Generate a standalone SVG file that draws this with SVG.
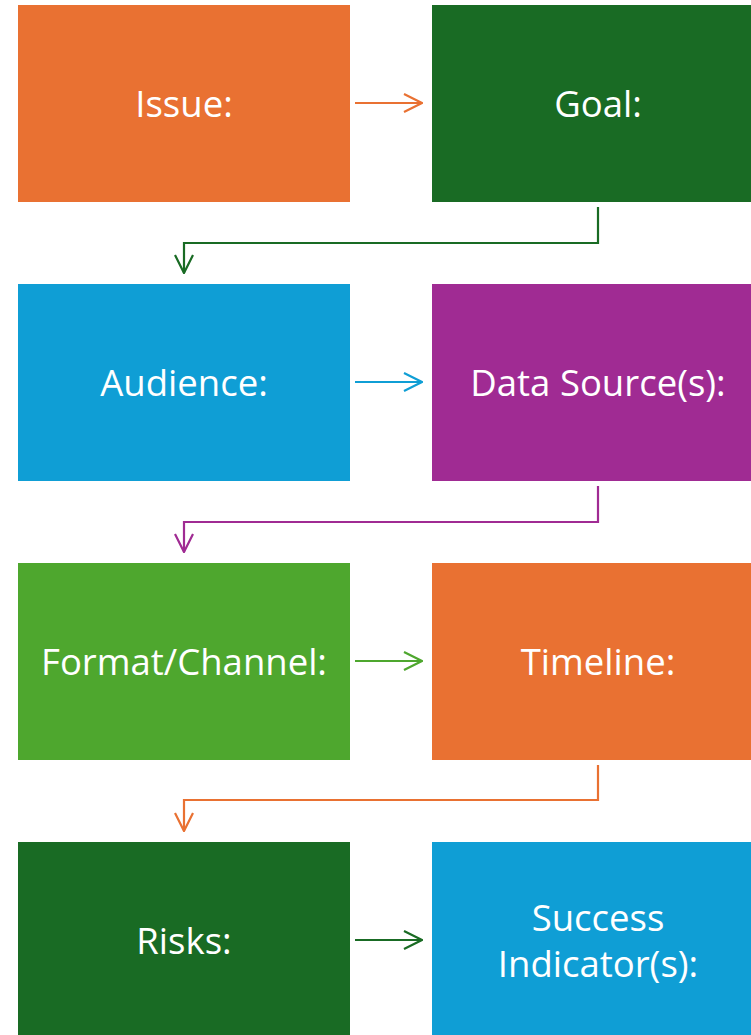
<svg xmlns="http://www.w3.org/2000/svg" width="751" height="1035" viewBox="0 0 751 1035">
<style>
.lbl{font-family:"Open Sans","Liberation Sans",sans-serif;font-size:36.5px;fill:#ffffff;text-anchor:middle;dominant-baseline:central}
.c{fill:none;stroke-width:2.2}
</style>
<defs>
<marker id="mo" viewBox="0 0 20 20" refX="19" refY="10" markerWidth="20" markerHeight="20" markerUnits="userSpaceOnUse" orient="auto"><path d="M1,1 L19,10 L1,19" fill="none" stroke="#E97132" stroke-width="2.2"/></marker>
<marker id="mg" viewBox="0 0 20 20" refX="19" refY="10" markerWidth="20" markerHeight="20" markerUnits="userSpaceOnUse" orient="auto"><path d="M1,1 L19,10 L1,19" fill="none" stroke="#196B24" stroke-width="2.2"/></marker>
<marker id="mb" viewBox="0 0 20 20" refX="19" refY="10" markerWidth="20" markerHeight="20" markerUnits="userSpaceOnUse" orient="auto"><path d="M1,1 L19,10 L1,19" fill="none" stroke="#0F9ED5" stroke-width="2.2"/></marker>
<marker id="mp" viewBox="0 0 20 20" refX="19" refY="10" markerWidth="20" markerHeight="20" markerUnits="userSpaceOnUse" orient="auto"><path d="M1,1 L19,10 L1,19" fill="none" stroke="#A02B93" stroke-width="2.2"/></marker>
<marker id="ml" viewBox="0 0 20 20" refX="19" refY="10" markerWidth="20" markerHeight="20" markerUnits="userSpaceOnUse" orient="auto"><path d="M1,1 L19,10 L1,19" fill="none" stroke="#4EA72E" stroke-width="2.2"/></marker>
</defs>
<g id="issue"><rect x="18" y="5" width="332" height="197" fill="#E97132"/><text class="lbl" x="184" y="103">Issue:</text></g>
<g id="goal"><rect x="432" y="5" width="332" height="197" fill="#196B24"/><text class="lbl" x="598" y="103">Goal:</text></g>
<g id="audience"><rect x="18" y="284" width="332" height="197" fill="#0F9ED5"/><text class="lbl" x="184" y="382">Audience:</text></g>
<g id="datasource"><rect x="432" y="284" width="332" height="197" fill="#A02B93"/><text class="lbl" x="598" y="382">Data Source(s):</text></g>
<g id="format"><rect x="18" y="563" width="332" height="197" fill="#4EA72E"/><text class="lbl" x="184" y="661">Format/Channel:</text></g>
<g id="timeline"><rect x="432" y="563" width="332" height="197" fill="#E97132"/><text class="lbl" x="598" y="661">Timeline:</text></g>
<g id="risks"><rect x="18" y="842" width="332" height="197" fill="#196B24"/><text class="lbl" x="184" y="940">Risks:</text></g>
<g id="success"><rect x="432" y="842" width="332" height="197" fill="#0F9ED5"/><text class="lbl" x="598" y="917">Success</text><text class="lbl" x="598" y="963">Indicator(s):</text></g>
<g id="connectors">
<path class="c" stroke="#E97132" d="M355,103 H422" marker-end="url(#mo)"/>
<path class="c" stroke="#196B24" d="M598,207 V243 H184 V273" marker-end="url(#mg)"/>
<path class="c" stroke="#0F9ED5" d="M355,382 H422" marker-end="url(#mb)"/>
<path class="c" stroke="#A02B93" d="M598,486 V522 H184 V552" marker-end="url(#mp)"/>
<path class="c" stroke="#4EA72E" d="M355,661 H422" marker-end="url(#ml)"/>
<path class="c" stroke="#E97132" d="M598,765 V800 H184 V831" marker-end="url(#mo)"/>
<path class="c" stroke="#196B24" d="M355,940 H422" marker-end="url(#mg)"/>
</g>
</svg>
